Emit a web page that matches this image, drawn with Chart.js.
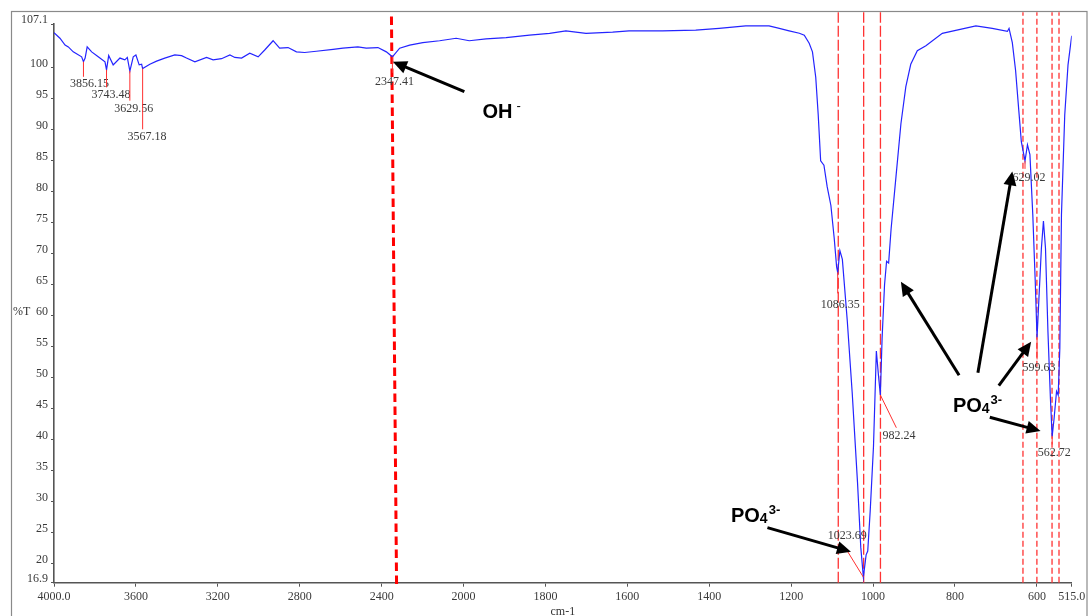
<!DOCTYPE html>
<html><head><meta charset="utf-8">
<style>html,body{margin:0;padding:0;background:#fff;}canvas{display:block;}</style>
<script src="https://cdn.jsdelivr.net/npm/chart.js@4.4.0/dist/chart.umd.min.js"></script>
</head><body>
<canvas id="c" width="1092" height="616"></canvas>
<script>
// ---------- data ----------
const WAVENUMBER = [4000,3971,3946,3930,3906,3865,3856.15,3848,3838,3816,3784,3751,3743.48,3733,3711,3678,3654,3642,3629.56,3613,3600,3584,3572,3567.18,3532,3499,3459,3410,3377,3353,3312,3255,3223,3182,3141,3117,3084,3044,3003,2971,2930,2898,2857,2816,2776,2719,2637,2589,2516,2475,2418,2377,2347.41,2312,2263,2199,2117,2036,1986,1945,1896,1839,1790,1750,1701,1636,1596,1514,1433,1376,1311,1254,1229,1205,1180,1168,1156,1148,1140,1134,1128,1120,1112,1103,1095,1089,1086.35,1081,1075,1063,1051,1038,1030,1023.69,1017,1013,1007,999,992,987,982.24,978,972,967,962,956,944,932,920,908,892,871,831,790,749,709,672,668,660,652,644,638,629.02,623,617,610,604,599.63,595,589,584,579,573,567,562.72,558,552,548,544,540,532,524,515];
const TRANSMITTANCE = [105.7,104.8,103.7,103.4,102.6,101.8,101.0,101.6,103.4,102.6,101.8,101.0,99.7,102.0,100.5,101.6,101.3,101.7,99.5,101.8,102.1,100.5,100.6,99.9,100.6,101.1,101.6,102.1,102.0,101.6,101.0,101.7,101.3,101.5,102.1,101.7,101.6,102.4,101.8,102.9,104.4,103.2,103.3,102.6,102.5,102.7,103.0,103.2,103.4,103.2,103.3,102.6,101.8,103.2,103.7,104.1,104.4,104.8,104.4,104.7,104.9,105.3,105.6,106.0,105.6,105.8,106.0,106.0,106.1,106.4,106.8,106.8,106.4,106.0,105.6,105.3,104.0,102.6,98.5,92.5,85.0,84.3,80.8,77.8,72.6,67.9,67.0,70.5,69.1,59.2,47.6,33.1,22.6,17.8,21.4,22.0,28.5,38.9,54.3,50.5,47.2,56.3,65.0,68.8,68.5,74.0,82.5,91.0,97.0,100.6,102.8,103.6,105.6,106.2,106.8,106.4,105.9,106.4,104.1,99.6,93.0,88.1,85.0,87.6,86.0,76.3,65.5,56.5,62.8,70.9,75.3,70.9,57.4,46.7,40.5,43.4,47.8,47.2,54.7,76.3,92.4,100.5,105.2];

const X_TICKS = [4000,3600,3200,2800,2400,2000,1800,1600,1400,1200,1000,800,600,515];
const X_TICK_LABELS = ['4000.0','3600','3200','2800','2400','2000','1800','1600','1400','1200','1000','800','600','515.0'];
const Y_TICKS = [16.9,20,25,30,35,40,45,50,55,60,65,70,75,80,85,90,95,100,107.1];
const Y_TICK_LABELS = ['16.9','20','25','30','35','40','45','50','55','60','65','70','75','80','85','90','95','100','107.1'];

const PEAK_WN = [3856.15,3743.48,3629.56,3567.18,2347.41,1086.35,1023.69,982.24,629.02,599.63,562.72];
const PEAK_T = [101.0,99.7,99.5,99.9,101.8,67.0,17.8,47.2,85.0,56.5,40.5];
const PEAK_LABELS = ['3856.15','3743.48','3629.56','3567.18','2347.41','1086.35','1023.69','982.24','629.02','599.63','562.72'];

const GUIDE_WN_LONG = [1085,1023,982];
const GUIDE_WN_SHORT = [634,600,563,546];
const OH_LINE_WN = [2352,2327];   // top, bottom of the thick dashed line
const OH_LINE_T = [108.3,16.35];

const ION_LABELS = ['OH','PO','PO'];
const ION_SUB = ['','4','4'];
const ION_SUP = ['-','3-','3-'];
const ION_WN = [1954,1347,805];
const ION_T = [91.9,26.75,44.5];

const ARROW_FROM_WN = [1998,1258,790,744,693,715];
const ARROW_FROM_T = [96.2,25.8,50.4,50.8,48.7,43.6];
const ARROW_TO_WN = [2345,1054,932,660,614,591];
const ARROW_TO_T = [101.0,21.9,65.5,83.3,55.8,41.4];

// ---------- layout (pixel offsets of peak labels / marker ends from the peak point) ----------
const LABEL_DX = [6,4.5,4,4.3,2,2.5,-16,18.7,4,2,2];
const LABEL_DY = [22.5,25.5,38,68,25,32.5,-41.5,41.3,17.4,30.7,16.3];
const MARK_DX = [0,0,0,0,0,0,-16,16,0,0,0];
const MARK_DY = [15,17.5,29.6,60.7,16,21,-26,32.7,8,22,8];

// ---------- broken wavenumber axis (scale change at 2000 cm-1) ----------
function toU(w){ return w >= 2000 ? (4000 - w) / 400 : 5 + (2000 - w) / 200; }
function fromU(u){ return u <= 5 ? 4000 - u * 400 : 2000 - (u - 5) * 200; }
class FtirScale extends Chart.LinearScale {
  buildTicks(){ this.start = this.min; this.end = this.max; return X_TICKS.map(v => ({value: v})); }
  getPixelForValue(value){ return this.getPixelForDecimal(toU(value) / toU(this.min)); }
  getValueForPixel(pixel){ return fromU(this.getDecimalForPixel(pixel) * toU(this.min)); }
}
FtirScale.id = 'ftir';
FtirScale.defaults = {};
Chart.register(FtirScale);

const SERIF = '"Liberation Serif", "Times New Roman", serif';
const SANS = '"Liberation Sans", Arial, sans-serif';
const GUIDE_TOP = 109.0;

const datasets = [{
  data: WAVENUMBER.map((w, i) => ({x: w, y: TRANSMITTANCE[i]})),
  borderColor: '#2424ff', borderWidth: 1.2, pointRadius: 0, tension: 0, fill: false
}];
GUIDE_WN_LONG.forEach(w => datasets.push({
  data: [{x: w, y: 16.9}, {x: w, y: GUIDE_TOP}], borderColor: '#ff3333', borderWidth: 1.3,
  borderDash: [11, 3], pointRadius: 0, clip: false
}));
GUIDE_WN_SHORT.forEach(w => datasets.push({
  data: [{x: w, y: 16.9}, {x: w, y: GUIDE_TOP}], borderColor: '#ff3333', borderWidth: 1.3,
  borderDash: [6, 3], pointRadius: 0, clip: false
}));
datasets.push({
  data: OH_LINE_WN.map((w, i) => ({x: w, y: OH_LINE_T[i]})), borderColor: '#ff0000', borderWidth: 3,
  borderDash: [8.5, 4.5], pointRadius: 0, clip: false
});

function drawArrow(ctx, x1, y1, x2, y2){
  const a = Math.atan2(y2 - y1, x2 - x1), L = 14, H = 6.5;
  const bx = x2 - L * Math.cos(a), by = y2 - L * Math.sin(a);
  ctx.strokeStyle = '#000'; ctx.fillStyle = '#000'; ctx.lineWidth = 3; ctx.lineCap = 'butt';
  ctx.beginPath(); ctx.moveTo(x1, y1); ctx.lineTo(bx + 2 * Math.cos(a), by + 2 * Math.sin(a)); ctx.stroke();
  ctx.beginPath(); ctx.moveTo(x2, y2);
  ctx.lineTo(bx - H * Math.sin(a), by + H * Math.cos(a));
  ctx.lineTo(bx + H * Math.sin(a), by - H * Math.cos(a));
  ctx.closePath(); ctx.fill();
}

const annot = {
  id: 'annot',
  beforeDraw(chart){
    const ctx = chart.ctx;
    ctx.save(); ctx.strokeStyle = '#8a8a8a'; ctx.lineWidth = 1.2;
    ctx.strokeRect(11.5, 11.5, 1075.5, 620); ctx.restore();
  },
  afterDraw(chart){
    const {ctx, scales: {x, y}, chartArea} = chart;
    ctx.save();
    // peak markers and labels
    PEAK_WN.forEach((w, i) => {
      const px = x.getPixelForValue(w), py = y.getPixelForValue(PEAK_T[i]);
      ctx.strokeStyle = '#ff3030'; ctx.lineWidth = 1;
      ctx.beginPath(); ctx.moveTo(px, py); ctx.lineTo(px + MARK_DX[i], py + MARK_DY[i]); ctx.stroke();
      ctx.fillStyle = '#3a3a3a'; ctx.font = '12px ' + SERIF; ctx.textAlign = 'center'; ctx.textBaseline = 'middle';
      ctx.fillText(PEAK_LABELS[i], px + LABEL_DX[i], py + LABEL_DY[i]);
    });
    // arrows
    ARROW_FROM_WN.forEach((w, i) => {
      drawArrow(ctx, x.getPixelForValue(w), y.getPixelForValue(ARROW_FROM_T[i]),
        x.getPixelForValue(ARROW_TO_WN[i]), y.getPixelForValue(ARROW_TO_T[i]));
    });
    // ion labels
    ctx.fillStyle = '#000'; ctx.textAlign = 'left'; ctx.textBaseline = 'alphabetic';
    ION_LABELS.forEach((t, i) => {
      const bx = x.getPixelForValue(ION_WN[i]), by = y.getPixelForValue(ION_T[i]);
      ctx.font = 'bold 20px ' + SANS; ctx.fillText(t, bx, by);
      let cx = bx + ctx.measureText(t).width;
      if (ION_SUB[i]) { ctx.font = 'bold 14px ' + SANS; ctx.fillText(ION_SUB[i], cx, by + 1); cx += ctx.measureText(ION_SUB[i]).width + 1; }
      else { cx += 4; }
      ctx.font = (ION_SUB[i] ? 'bold 13px ' : '13px ') + SANS; ctx.fillText(ION_SUP[i], cx, by - 8);
    });
    // axis titles
    ctx.fillStyle = '#333'; ctx.font = '12px ' + SERIF; ctx.textBaseline = 'middle';
    ctx.textAlign = 'left'; ctx.fillText('%T', 13, y.getPixelForValue(60) - 4);
    ctx.textAlign = 'center'; ctx.fillText('cm-1', (chartArea.left + chartArea.right) / 2, 612);
    ctx.restore();
  }
};

new Chart(document.getElementById('c'), {
  type: 'line',
  data: {datasets},
  plugins: [annot],
  options: {
    responsive: false, animation: false, devicePixelRatio: 1, events: [],
    layout: {padding: {left: 0, right: 20.3, top: 24, bottom: 0}},
    plugins: {legend: {display: false}, tooltip: {enabled: false}},
    scales: {
      x: {
        type: 'ftir', position: 'bottom', min: 515, max: 4000,
        afterFit: s => { s.height = 33.3; },
        grid: {drawOnChartArea: false, drawTicks: true, tickLength: 4, color: '#555', lineWidth: 1},
        border: {display: true, color: '#555', width: 1.6},
        ticks: {autoSkip: false, maxRotation: 0, padding: 3, color: '#3a3a3a',
          font: {family: SERIF, size: 12},
          callback: v => X_TICK_LABELS[X_TICKS.indexOf(v)]}
      },
      y: {
        type: 'linear', min: 16.9, max: 107.1,
        afterFit: s => { s.width = 54; },
        afterBuildTicks: s => { s.ticks = Y_TICKS.map(v => ({value: v})); },
        grid: {drawOnChartArea: false, drawTicks: true, tickLength: 3, color: '#555', lineWidth: 1},
        border: {display: true, color: '#555', width: 1.6},
        ticks: {autoSkip: false, padding: 3, labelOffset: -4, color: '#3a3a3a',
          font: {family: SERIF, size: 12},
          callback: v => Y_TICK_LABELS[Y_TICKS.indexOf(v)]}
      }
    }
  }
});
</script>
</body></html>
